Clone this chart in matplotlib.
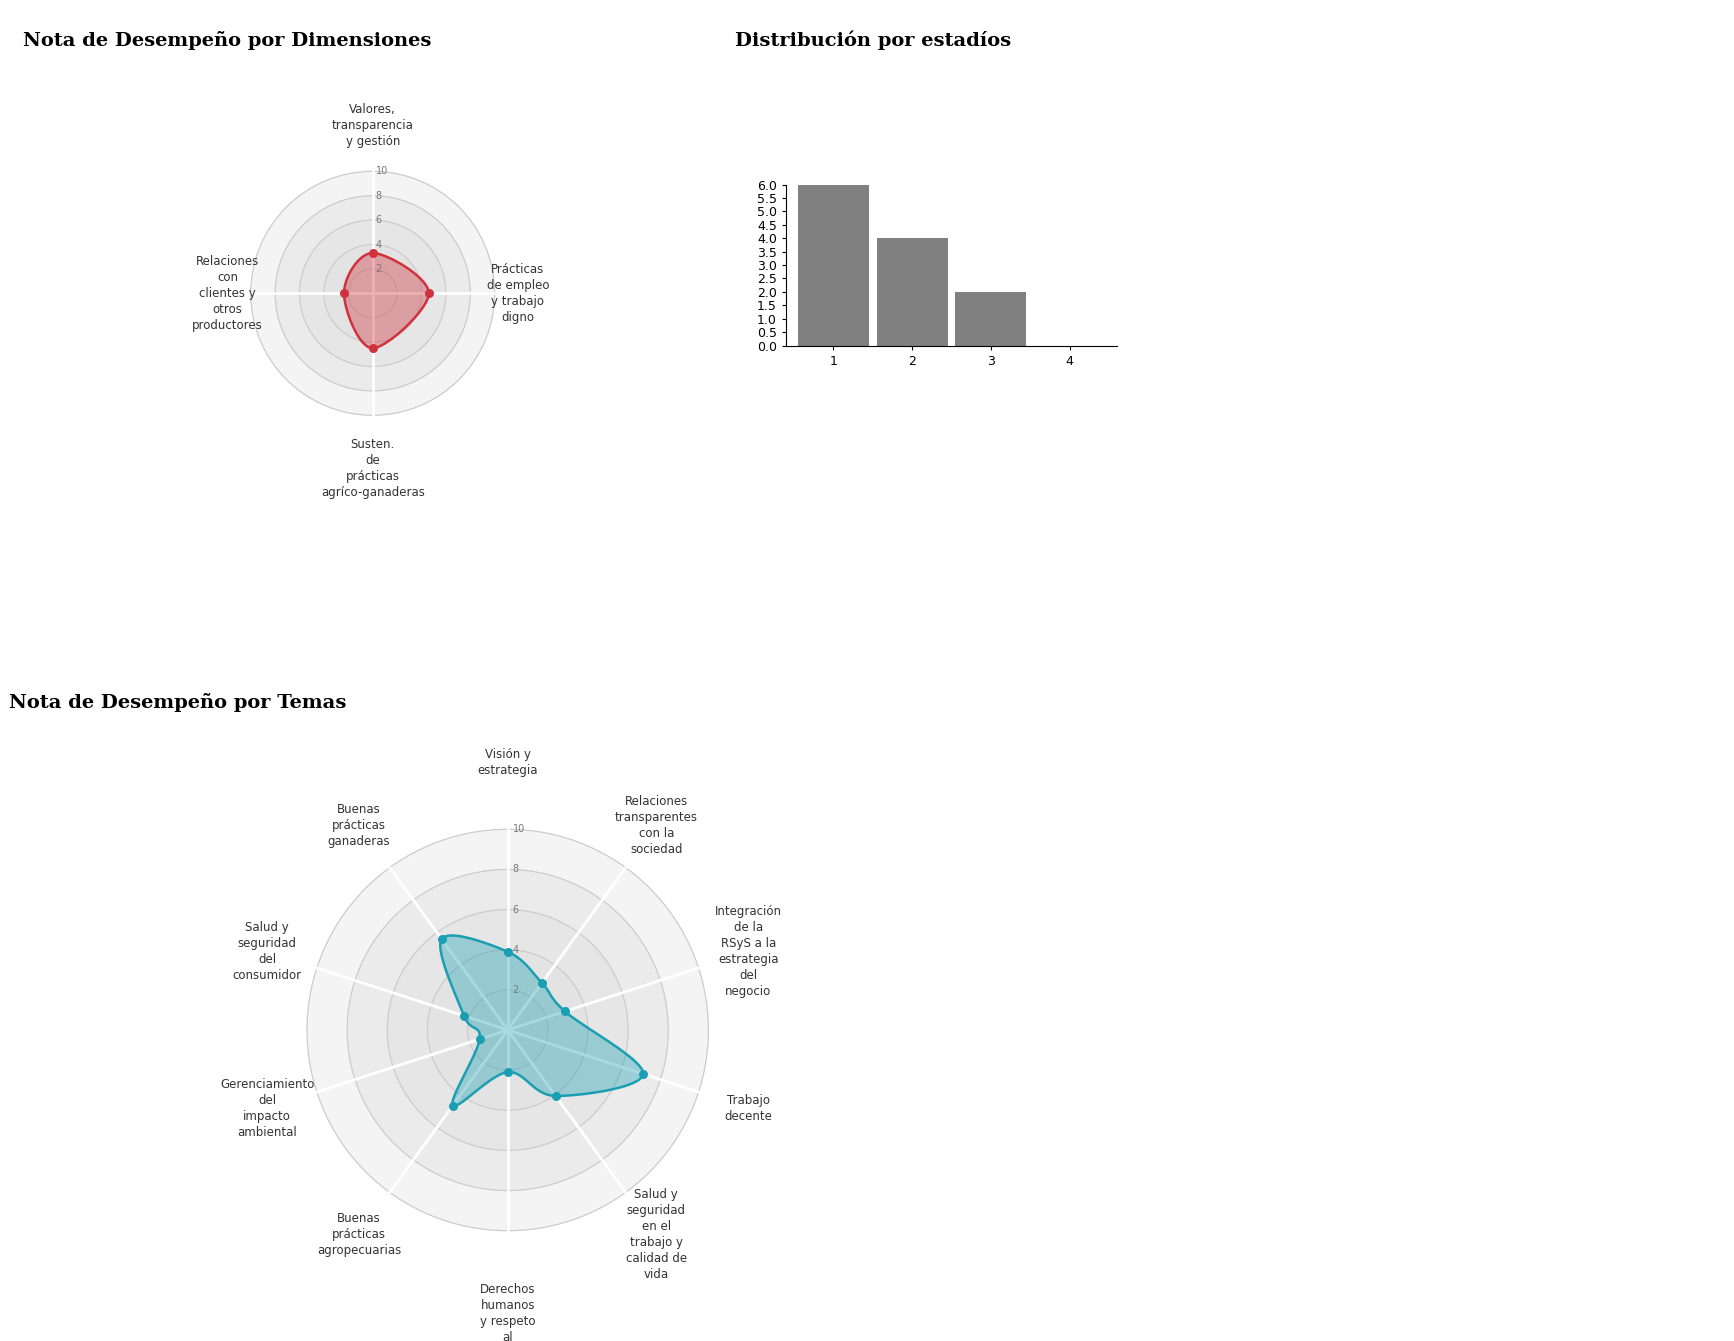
import numpy as np
import matplotlib.pyplot as plt
from matplotlib.patches import Circle, Polygon

W, H = 1734, 1341

dim_labels = ["Valores,\ntransparencia\ny gestión", "Prácticas\nde empleo\ny trabajo\ndigno",
              "Susten.\nde\nprácticas\nagríco-ganaderas", "Relaciones\ncon\nclientes y\notros\nproductores"]
dim_values = [3.3, 4.6, 4.5, 2.35]

tema_labels = ["Visión y\nestrategia", "Relaciones\ntransparentes\ncon la\nsociedad",
               "Integración\nde la\nRSyS a la\nestrategia\ndel\nnegocio", "Trabajo\ndecente",
               "Salud y\nseguridad\nen el\ntrabajo y\ncalidad de\nvida", "Derechos\nhumanos\ny respeto\nal",
               "Buenas\nprácticas\nagropecuarias", "Gerenciamiento\ndel\nimpacto\nambiental",
               "Salud y\nseguridad\ndel\nconsumidor", "Buenas\nprácticas\nganaderas"]
tema_values = [3.9, 2.9, 3.0, 7.1, 4.06, 2.1, 4.65, 1.47, 2.29, 5.6]

estadios = ["1", "2", "3", "4"]
estadio_counts = [6, 4, 2, 0]


def smooth(xs, ys, n=30):
    # closed Catmull-Rom curve through the points
    P = np.column_stack([xs, ys])
    k = len(P)
    out = []
    for i in range(k):
        p0, p1, p2, p3 = P[i - 1], P[i], P[(i + 1) % k], P[(i + 2) % k]
        t = np.linspace(0, 1, n, endpoint=False)[:, None]
        out.append(0.5 * ((2 * p1) + (-p0 + p2) * t + (2 * p0 - 5 * p1 + 4 * p2 - p3) * t ** 2
                          + (-p0 + 3 * p1 - 3 * p2 + p3) * t ** 3))
    return np.vstack(out)


def radar(cx, cy, scale, half, labels, values, color, label_r, line_ys=None):
    size = 2 * half * scale
    ax = plt.gcf().add_axes([(cx - size / 2) / W, 1 - (cy + size / 2) / H, size / W, size / H])
    ax.set_xlim(-half, half)
    ax.set_ylim(-half, half)
    ax.set_aspect("equal")
    ax.axis("off")
    for r, fc in [(10, "#f4f4f4"), (8, "#ebebeb"), (6, "#e6e6e6"), (4, "#e3e3e3"), (2, "#e1e1e1")]:
        ax.add_patch(Circle((0, 0), r, facecolor=fc, edgecolor="#cccccc", lw=0.9))
    n = len(labels)
    ang = np.pi / 2 - np.arange(n) * 2 * np.pi / n
    for a in ang:
        ax.plot([0, 10 * np.cos(a)], [0, 10 * np.sin(a)], color="white", lw=2, zorder=2)
    for v in [2, 4, 6, 8, 10]:
        ax.text(0.25, v, str(v), fontsize=7, color="#777777", va="center", ha="left", zorder=5)
    xs = np.array(values) * np.cos(ang)
    ys = np.array(values) * np.sin(ang)
    curve = smooth(xs, ys)
    ax.add_patch(Polygon(curve, closed=True, facecolor=color, alpha=0.38, edgecolor="none", zorder=3))
    ax.add_patch(Polygon(curve, closed=True, facecolor="none", edgecolor=color, lw=1.8, zorder=4))
    ax.scatter(xs, ys, s=30, color=color, zorder=5)
    for a, lab in zip(ang, labels):
        x, y = label_r * np.cos(a), label_r * np.sin(a)
        va = "center"
        if np.sin(a) > 0.9:
            va = "bottom"
        elif np.sin(a) < -0.9:
            va = "top"
        ax.text(x, y, lab, ha="center", va=va, fontsize=8.5, color="#333333",
                linespacing=1.3, clip_on=False)
    return ax


fig = plt.figure(figsize=(W / 100, H / 100), dpi=100)

fig.text(23 / W, 1 - 40 / H, "Nota de Desempeño por Dimensiones", fontsize=14,
         fontweight="bold", family="DejaVu Serif", va="center")
fig.text(735 / W, 1 - 40 / H, "Distribución por estadíos", fontsize=14,
         fontweight="bold", family="DejaVu Serif", va="center")
fig.text(9 / W, 1 - 703 / H, "Nota de Desempeño por Temas", fontsize=14,
         fontweight="bold", family="DejaVu Serif", va="center")

radar(372.7, 293.3, 12.2, 15, dim_labels, dim_values, "#d0313d", 11.9)
radar(507.7, 1030, 20.07, 14, tema_labels, tema_values, "#1a9fb2", 12.6)

# bar chart
bx0, bx1, by0, by1 = 786, 1117, 184.5, 345.6
axb = fig.add_axes([bx0 / W, 1 - by1 / H, (bx1 - bx0) / W, (by1 - by0) / H])
pos = np.arange(len(estadios))
axb.bar(pos, estadio_counts, width=0.9, color="#808080")
axb.set_xticks(pos, estadios)
axb.set_yticks(np.arange(0, 6.01, 0.5))
axb.set_ylim(0, 6)
axb.set_xlim(-0.6, 3.6)
axb.tick_params(labelsize=9, length=3)
axb.spines["top"].set_visible(False)
axb.spines["right"].set_visible(False)

fig.savefig("out.png", dpi=100)
